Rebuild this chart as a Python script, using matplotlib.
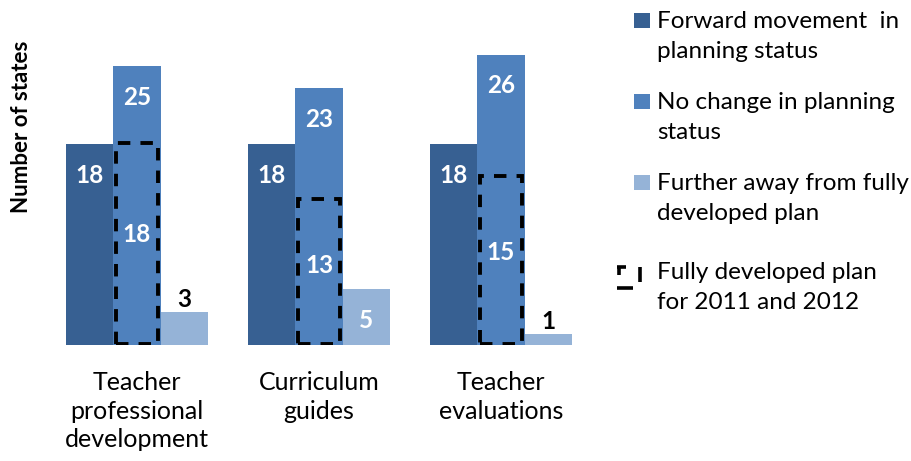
import matplotlib
matplotlib.use("Agg")
import matplotlib.pyplot as plt
from matplotlib.patches import Rectangle
from matplotlib.lines import Line2D
import numpy as np

plt.rcParams['font.family'] = ['Lato', 'DejaVu Sans']

categories = ["Teacher\nprofessional\ndevelopment", "Curriculum\nguides", "Teacher\nevaluations"]
forward = [18, 18, 18]
no_change = [25, 23, 26]
further = [3, 5, 1]
fully_developed = [18, 13, 15]

series_labels = ["Forward movement  in\nplanning status",
                 "No change in planning\nstatus",
                 "Further away from fully\ndeveloped plan",
                 "Fully developed plan\nfor 2011 and 2012"]
colors = ["#376092", "#4F81BD", "#95B3D7"]

W, H = 911, 461
fig = plt.figure(figsize=(W / 100, H / 100), dpi=100)
ax = fig.add_axes([46 / W, (H - 345) / H, (592 - 46) / W, (345 - 43.5) / H])

x = np.arange(len(categories))
bw = 0.26
ax.bar(x - bw, forward, bw, color=colors[0], linewidth=0)
ax.bar(x, no_change, bw, color=colors[1], linewidth=0)
ax.bar(x + bw, further, bw, color=colors[2], linewidth=0)

for xi, v in zip(x, fully_developed):
    ax.add_patch(Rectangle((xi - bw / 2 + 0.015, 0.1), bw - 0.03, v, fill=False,
                           edgecolor="black", linewidth=2.8, linestyle=(0, (3.2, 2.6)),
                           zorder=3))

lab_kw = dict(ha="center", va="center", fontsize=17.5, fontweight="bold")
for xi, v in zip(x, forward):
    ax.text(xi - bw, v - 2.8, str(v), color="white", **lab_kw)
for xi, v in zip(x, no_change):
    ax.text(xi, v - 2.8, str(v), color="white", **lab_kw)
for xi, v in zip(x, fully_developed):
    ax.text(xi, v * 0.55, str(v), color="white", zorder=4, **lab_kw)
for xi, v in zip(x, further):
    if v >= 5:
        ax.text(xi + bw, v - 2.8, str(v), color="white", **lab_kw)
    else:
        ax.text(xi + bw, v + 1.1, str(v), color="black", **lab_kw)

ax.set_xlim(-0.5, 2.5)
ax.set_ylim(0, 27)
ax.set_xticks(x)
ax.set_xticklabels(categories, fontsize=18, linespacing=1.27)
ax.tick_params(axis="x", length=0, pad=19)
ax.set_yticks([])
for s in ax.spines.values():
    s.set_visible(False)

fig.text(22 / W, (H - 127) / H, "Number of states", rotation=90, ha="center", va="center",
         fontsize=16, fontweight="bold")

# legend (drawn manually so the marker sits on the first text line)
baselines = [28, 109, 190, 279]
line_gap = 30
for i, (lab, by) in enumerate(zip(series_labels, baselines)):
    for j, line in enumerate(lab.split("\n")):
        fig.text(657 / W, (H - by - j * line_gap) / H, line, ha="left", va="baseline",
                 fontsize=17.5)
    if i < 3:
        top = by - 15
        fig.patches.append(Rectangle((634 / W, (H - top - 15) / H), 16 / W, 15 / H,
                                     transform=fig.transFigure, facecolor=colors[i],
                                     edgecolor="none"))
    else:
        top = by - 12
        segs = [((617, top), (626, top)), ((618.5, top), (618.5, top + 8)),
                ((640, top), (640, top + 15)), ((617, top + 21), (633, top + 21))]
        for (x0, y0), (x1, y1) in segs:
            fig.lines.append(Line2D([x0 / W, x1 / W], [(H - y0) / H, (H - y1) / H],
                                    transform=fig.transFigure, color="black",
                                    linewidth=2.6, solid_capstyle="butt"))

plt.savefig("out.png", dpi=100)
